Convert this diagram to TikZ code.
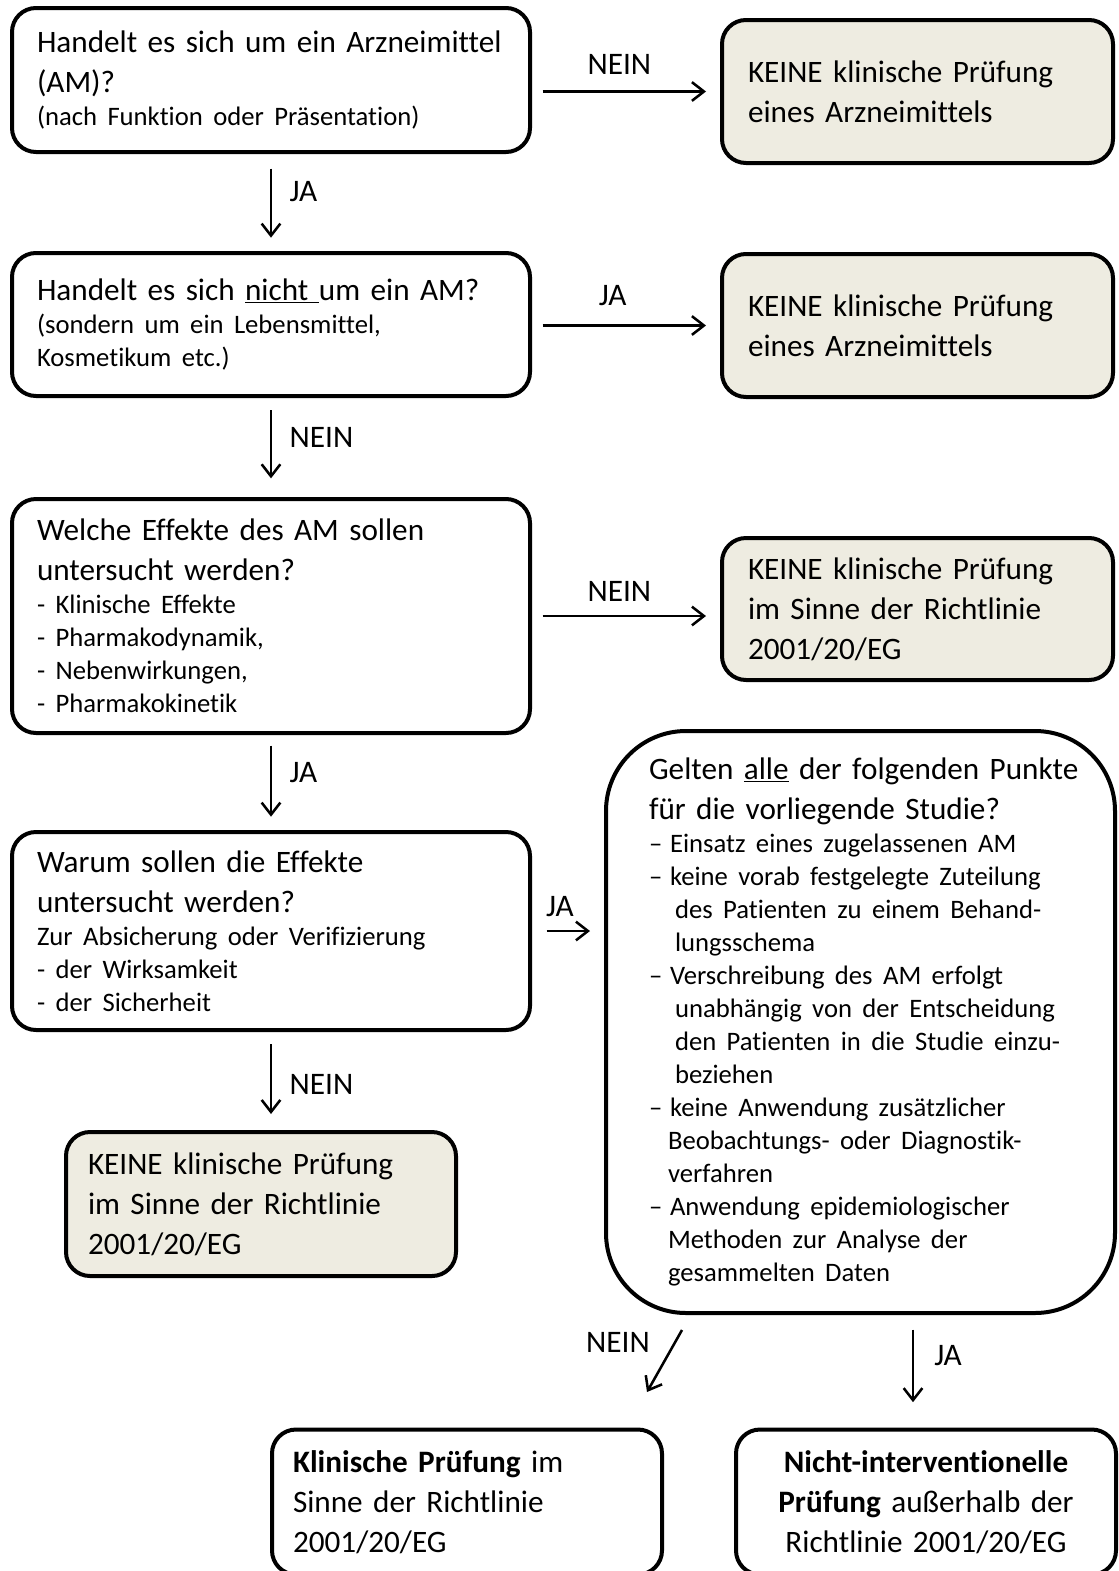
\documentclass[tikz,border=0pt]{standalone}
\usepackage{fontspec}
\setmainfont{Carlito}[Ligatures=CommonOff]
\usetikzlibrary{positioning, arrows.meta, calc}
\definecolor{keineFill}{RGB}{238,236,225}

\newcommand{\bigtxt}{\fontsize{23.4}{30}\selectfont\hyphenpenalty=10000\exhyphenpenalty=10000}
\newcommand{\smalltxt}{\fontsize{20}{24.75}\selectfont}
\newcommand{\dashitem}{\makebox[15.75pt][l]{–}}

\begin{document}
\begin{tikzpicture}[x=0.75pt, y=-0.75pt,
  box/.style={draw, line width=3pt, rounded corners=18pt, align=left,
    inner xsep=0pt, inner ysep=0pt, font=\bigtxt},
  keine/.style={box, fill=keineFill},
  leftq/.style={box, minimum width=388.5pt, text width=351pt},
  rightk/.style={keine, minimum width=293.25pt, minimum height=107.25pt, text width=254.25pt},
  flow/.style={-{Straight Barb[length=9pt,width=14pt]}, line width=1.9pt},
  lbl/.style={font=\fontsize{23.5}{28}\selectfont, inner sep=0pt},
]
  \clip (0,0) rectangle (1118,1571);

  % questions, left column
  \node[leftq, minimum height=108pt] (q1) at (271,80)
    {Handelt es sich um ein Arzneimittel\\(AM)?\par
     {\smalltxt (nach Funktion oder Präsentation)\par}};
  \node[leftq, minimum height=107.25pt] (q2) at (271,324.5)
    {Handelt es sich \underline{nicht\ }um ein AM?\par
     {\smalltxt (sondern um ein Lebensmittel,\\Kosmetikum etc.)\par}};
  \node[leftq, minimum height=175.5pt] (q3) at (271,616)
    {Welche Effekte des AM sollen\\untersucht werden?\par
     {\smalltxt - Klinische Effekte\\- Pharmakodynamik,\\- Nebenwirkungen,\\- Pharmakokinetik\par}};
  \node[leftq, minimum height=148.5pt] (q4) at (271,931)
    {Warum sollen die Effekte\\untersucht werden?\par
     {\smalltxt Zur Absicherung oder Verifizierung\\- der Wirksamkeit\\- der Sicherheit\par}};

  % results, right column
  \node[rightk] (r1) at (917.5,91.5) {KEINE klinische Prüfung\\eines Arzneimittels};
  \node[rightk] (r2) at (917.5,325.5) {KEINE klinische Prüfung\\eines Arzneimittels};
  \node[rightk, minimum height=106.5pt] (r3) at (917.5,609)
    {KEINE klinische Prüfung\\im Sinne der Richtlinie\\2001/20/EG};
  \node[keine, minimum width=292.5pt, minimum height=108pt, text width=259.5pt] (r4) at (261,1204)
    {KEINE klinische Prüfung\\im Sinne der Richtlinie\\2001/20/EG};

  % criteria box
  \node[box, rounded corners=60pt, minimum width=381.75pt, minimum height=436.5pt,
    text width=330pt] (big) at (860.5,1022)
    {\leftskip=6.4pt
     Gelten \underline{alle} der folgenden Punkte\\für die vorliegende Studie?\par
     {\smalltxt
      \dashitem Einsatz eines zugelassenen AM\\
      \dashitem keine vorab festgelegte Zuteilung\\
      \hspace*{19.5pt}des Patienten zu einem Behand-\\
      \hspace*{19.5pt}lungsschema\\
      \dashitem Verschreibung des AM erfolgt\\
      \hspace*{19.5pt}unabhängig von der Entscheidung\\
      \hspace*{19.5pt}den Patienten in die Studie einzu-\\
      \hspace*{19.5pt}beziehen\\
      \dashitem keine Anwendung zusätzlicher\\
      \hspace*{14.25pt}Beobachtungs- oder Diagnostik-\\
      \hspace*{14.25pt}verfahren\\
      \dashitem Anwendung epidemiologischer\\
      \hspace*{14.25pt}Methoden zur Analyse der\\
      \hspace*{14.25pt}gesammelten Daten\par}};

  % outcomes at the bottom
  \node[box, minimum width=292.5pt, minimum height=108.75pt, text width=261pt] (bm) at (467,1502)
    {\textbf{Klinische Prüfung} im\\Sinne der Richtlinie\\2001/20/EG};
  \node[box, align=center, minimum width=285pt, minimum height=108.75pt, text width=258.75pt] (br) at (926,1502)
    {\textbf{Nicht-interventionelle}\\\textbf{Prüfung} außerhalb der\\Richtlinie 2001/20/EG};

  % vertical flow
  \draw[flow, shorten <=11pt, shorten >=10pt] (q1.south) -- (q2.north)
    node[lbl, pos=.39, right=13pt] {JA};
  \draw[flow, shorten <=9pt, shorten >=14pt] (q2.south) -- (q3.north)
    node[lbl, pos=.40, right=13pt] {NEIN};
  \draw[flow, shorten <=8pt, shorten >=10pt] (q3.south) -- (q4.north)
    node[lbl, pos=.40, right=13pt] {JA};
  \draw[flow, shorten <=9pt, shorten >=12pt] (q4.south) -- (q4.south |- r4.north)
    node[lbl, pos=.53, right=13pt] {NEIN};

  % horizontal flow
  \draw[flow, shorten <=8pt, shorten >=10.5pt] (q1.east |- r1.west) -- (r1.west)
    node[lbl, midway, above=12pt, xshift=-5pt] {NEIN};
  \draw[flow, shorten <=8pt, shorten >=10.5pt] (q2.east |- r2.west) -- (r2.west)
    node[lbl, midway, above=14pt, xshift=-10pt] {JA};
  \draw[flow, shorten <=8pt, shorten >=10.5pt] (q3.east) -- (q3.east -| r3.west)
    node[lbl, midway, above=10pt, xshift=-5pt] {NEIN};
  \draw[flow, shorten <=11pt, shorten >=10.5pt] (q4.east) -- (q4.east -| big.west)
    node[lbl, midway, above=10pt, xshift=-6pt] {JA};

  % out of the criteria box
  \coordinate (neinTop) at ($(big.south)+(-178.5,15)$);
  \coordinate (jaTop) at ($(big.south)+(52.5,0)$);
  \draw[flow] (neinTop) -- ++(-35,62)
    node[lbl, pos=.2, left=18pt] {NEIN};
  \draw[flow, shorten <=11pt, shorten >=19pt] (jaTop) -- (jaTop |- br.north)
    node[lbl, pos=.36, right=15pt] {JA};
\end{tikzpicture}
\end{document}
